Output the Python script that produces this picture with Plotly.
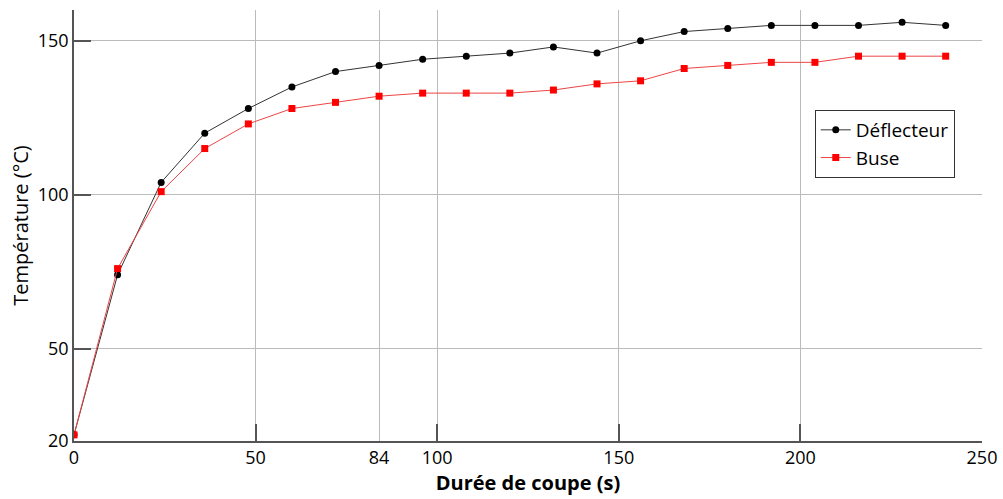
import plotly.graph_objects as go

duree = [0, 12, 24, 36, 48, 60, 72, 84, 96, 108, 120, 132, 144, 156, 168, 180, 192, 204, 216, 228, 240]
deflecteur = [22, 74, 104, 120, 128, 135, 140, 142, 144, 145, 146, 148, 146, 150, 153, 154, 155, 155, 155, 156, 155]
buse = [22, 76, 101, 115, 123, 128, 130, 132, 133, 133, 133, 134, 136, 137, 141, 142, 143, 143, 145, 145, 145]

x_ticks = [0, 50, 84, 100, 150, 200, 250]
x_major = [50, 100, 150, 200]
y_ticks = [20, 50, 100, 150]

FONT = "Open Sans, DejaVu Sans, sans-serif"

fig = go.Figure()
fig.add_trace(go.Scatter(
    x=duree, y=deflecteur, name="Déflecteur", mode="lines+markers",
    line=dict(color="#333333", width=1),
    marker=dict(symbol="circle", size=7, color="black"),
))
fig.add_trace(go.Scatter(
    x=duree, y=buse, name="Buse", mode="lines+markers",
    line=dict(color="#ee4444", width=1),
    marker=dict(symbol="square", size=7, color="#ff0000"),
))
# invisible trace on overlay axis used for inside tick marks
fig.add_trace(go.Scatter(x=[0], y=[20], xaxis="x2", mode="markers",
                         marker=dict(opacity=0), showlegend=False, hoverinfo="skip"))

fig.update_layout(
    width=1003, height=499,
    margin=dict(l=74, r=21, t=10, b=58, autoexpand=False),
    paper_bgcolor="white", plot_bgcolor="white",
    font=dict(family=FONT, size=18, color="black"),
    showlegend=True,
    legend=dict(
        x=0.97, y=0.768, xanchor="right", yanchor="top",
        bordercolor="#333333", borderwidth=1, bgcolor="white",
        font=dict(family=FONT, size=19),
        tracegroupgap=0, itemwidth=30,
    ),
    xaxis=dict(
        range=[0, 250], tickvals=x_ticks, ticktext=[str(v) for v in x_ticks],
        showgrid=True, gridcolor="#bbbbbb", gridwidth=1,
        showline=True, linecolor="#555555", linewidth=1.5,
        ticks="", zeroline=False, automargin=False,
        title=dict(text="<b>Durée de coupe (s)</b>", font=dict(family=FONT, size=20), standoff=2),
        tickfont=dict(family=FONT, size=18),
    ),
    xaxis2=dict(
        range=[0, 250], overlaying="x", side="bottom", anchor="y",
        tickvals=x_major, showticklabels=False, showgrid=False,
        ticks="inside", ticklen=17, tickcolor="#555555", tickwidth=1.5,
        showline=False, zeroline=False,
    ),
    yaxis=dict(
        range=[20, 160], tickvals=y_ticks, ticktext=[str(v) for v in y_ticks],
        showgrid=True, gridcolor="#bbbbbb", gridwidth=1,
        showline=True, linecolor="#555555", linewidth=1.5,
        ticks="inside", ticklen=17, tickcolor="#555555", tickwidth=1.5,
        zeroline=False, automargin=False,
        title=dict(text="Température (°C)", font=dict(family=FONT, size=20), standoff=4),
        tickfont=dict(family=FONT, size=18),
    ),
)

fig.write_html(
    "out.html",
    config={"displayModeBar": False},
    post_script="document.body.style.margin='0';document.body.style.overflow='hidden';",
)
